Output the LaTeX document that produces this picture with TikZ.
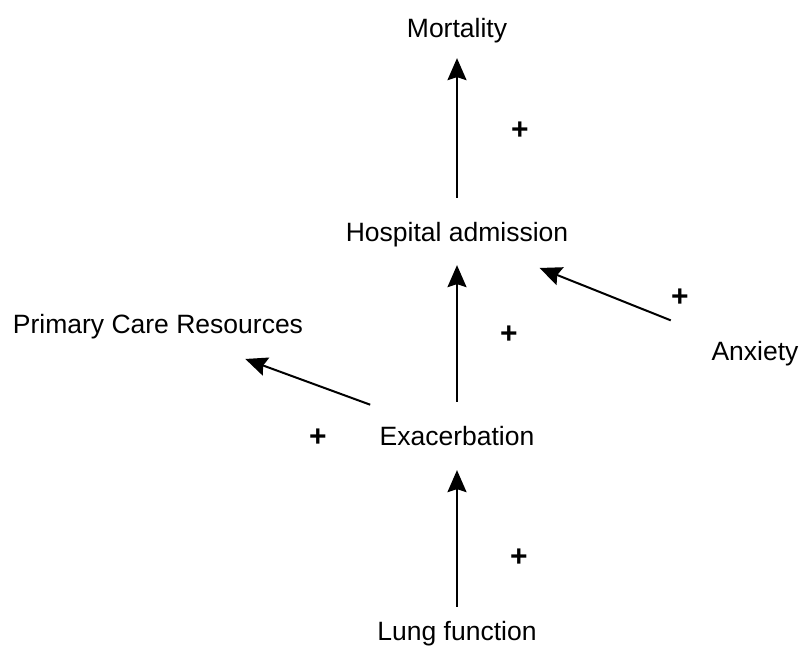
\documentclass[tikz,border=0pt]{standalone}
\usepackage{fontspec}
\setmainfont{Liberation Sans}
\usetikzlibrary{arrows.meta}
\begin{document}
\begin{tikzpicture}[x=1pt,y=-1pt,
  lbl/.style={inner sep=0pt, font=\fontsize{26.5}{30}\selectfont},
  sign/.style={inner sep=0pt, font=\fontsize{30}{34}\selectfont\bfseries},
  link/.style={line width=2pt, -{Stealth[length=22pt,width=19pt,inset=3pt]}}]
  \useasboundingbox (0,0) rectangle (801,648);
  % factors
  \node[lbl] (mort) at (457,30.2) {Mortality};
  \node[lbl] (hosp) at (457,235) {Hospital admission};
  \node[lbl] (pcr)  at (158,327) {Primary Care Resources};
  \node[lbl] (anx)  at (755,354) {Anxiety};
  \node[lbl] (exac) at (457,436.5) {Exacerbation};
  \node[lbl] (lung) at (457,634) {Lung function};
  % causal links (shortening measured from the node borders)
  \draw[link, shorten <=14.6pt, shorten >=23.7pt] (lung) -- (exac);
  \draw[link, shorten <=24.7pt, shorten >=17.6pt] (exac) -- (hosp);
  \draw[link, shorten <=24.6pt, shorten >=15.4pt] (hosp) -- (mort);
  \draw[link, shorten <=63.6pt, shorten >=56.5pt] (exac) -- (pcr);
  \draw[link, shorten <=56.9pt, shorten >=55.1pt] (anx) -- (hosp);
  % polarities
  \node[sign] (s1) at (520,131) {+};
  \node[sign] (s2) at (509,335) {+};
  \node[sign] (s3) at (680,298) {+};
  \node[sign] (s4) at (318,438) {+};
  \node[sign] (s5) at (519,558) {+};
\end{tikzpicture}
\end{document}
